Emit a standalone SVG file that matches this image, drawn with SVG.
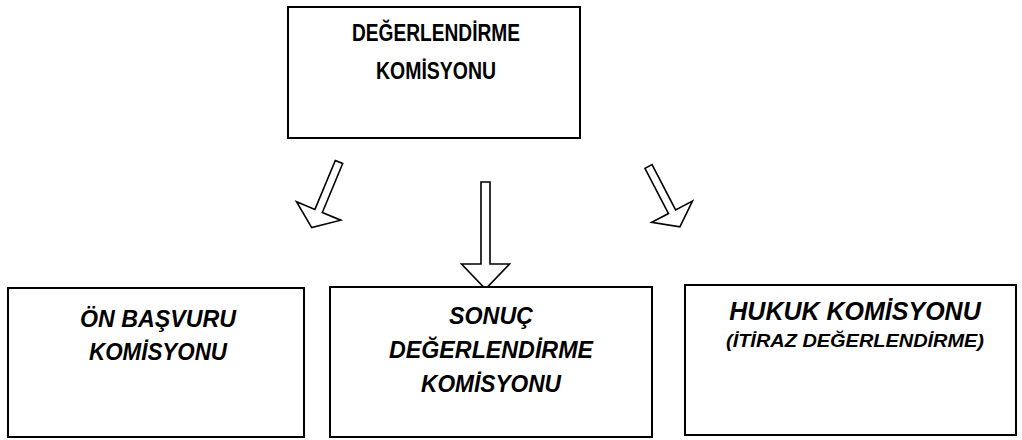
<svg xmlns="http://www.w3.org/2000/svg" width="1022" height="440" viewBox="0 0 1022 440">
<style>
.box{fill:#fff;stroke:#000;stroke-width:2}
.arr{fill:#fff;stroke:#000;stroke-width:1.6;stroke-linejoin:miter}
.t{font-family:"Liberation Sans",Arial,sans-serif;font-weight:bold;fill:#000;text-anchor:middle}
.top{font-size:23px}
.bi{font-size:24px;font-style:italic}
.hk{font-size:25px;font-style:italic}
.sub{font-size:19px;font-style:italic}
</style>
<rect width="1022" height="440" fill="#fff"/>
<g id="connectors">
<path class="arr" transform="translate(339,162) rotate(22.6)" d="M-4,0 L4,0 L4,53 L24,53 L0,71 L-24,53 L-4,53 Z"/>
<path class="arr" transform="translate(485.5,182)" d="M-4.5,0 L4.5,0 L4.5,82 L24,82 L0,107 L-24,82 L-4.5,82 Z"/>
<path class="arr" transform="translate(648.5,166.5) rotate(-27.5)" d="M-4,0 L4,0 L4,51 L23,51 L0,68 L-23,51 L-4,51 Z"/>
</g>
<g id="degerlendirme">
<rect class="box" x="288" y="7" width="292" height="131"/>
<text class="t top" x="436" y="41" textLength="168" lengthAdjust="spacingAndGlyphs">DEĞERLENDİRME</text>
<text class="t top" x="436" y="79" textLength="120" lengthAdjust="spacingAndGlyphs">KOMİSYONU</text>
</g>
<g id="on-basvuru">
<rect class="box" x="8" y="288" width="296" height="149"/>
<text class="t bi" x="158" y="327" textLength="156" lengthAdjust="spacingAndGlyphs">ÖN BAŞVURU</text>
<text class="t bi" x="158" y="360" textLength="138" lengthAdjust="spacingAndGlyphs">KOMİSYONU</text>
</g>
<g id="sonuc">
<rect class="box" x="330" y="287" width="322" height="150"/>
<text class="t bi" x="491" y="324" textLength="84" lengthAdjust="spacingAndGlyphs">SONUÇ</text>
<text class="t bi" x="491" y="358" textLength="204" lengthAdjust="spacingAndGlyphs">DEĞERLENDİRME</text>
<text class="t bi" x="491" y="392" textLength="140" lengthAdjust="spacingAndGlyphs">KOMİSYONU</text>
</g>
<g id="hukuk">
<rect class="box" x="685" y="285" width="331" height="150"/>
<text class="t hk" x="855" y="320">HUKUK KOMİSYONU</text>
<text class="t sub" x="855" y="347" textLength="258" lengthAdjust="spacingAndGlyphs">(İTİRAZ DEĞERLENDİRME)</text>
</g>
</svg>
